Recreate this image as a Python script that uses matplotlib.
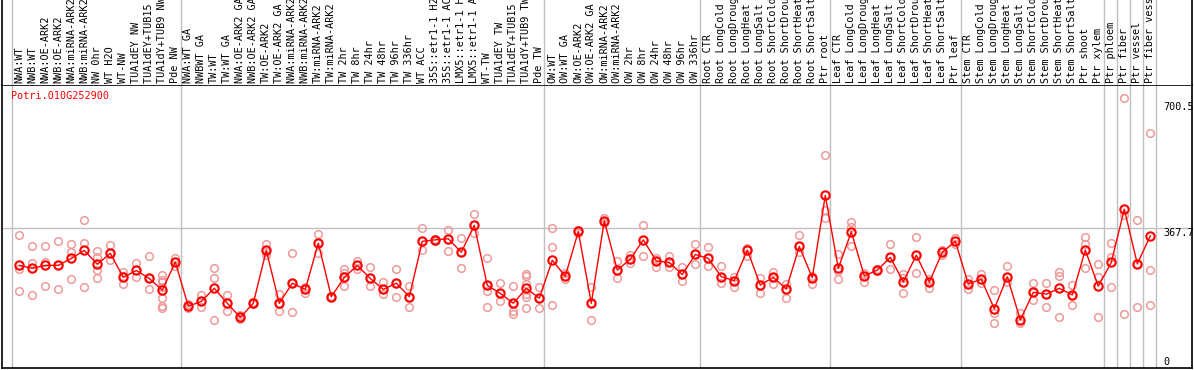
import matplotlib
matplotlib.use("Agg")
import matplotlib.pyplot as plt

# sample labels, in plot order
labels = [
    "NWA:WT", "NWB:WT", "NWA:OE-ARK2", "NWB:OE-ARK2", "NWA:miRNA-ARK2", "NWB:miRNA-ARK2",
    "NW 0hr", "WT H2O", "WT-NW", "TUA1dEY NW", "TUA1dEY+TUB15 NW", "TUA1dY+TUB9 NW", "Pde NW",
    "NWA:WT GA", "NWBWT GA", "TW:WT", "TW:WT GA", "NWA:OE-ARK2 GA", "NWB:OE-ARK2 GA",
    "TW:OE-ARK2", "TW:OE-ARK2 GA", "NWA:miRNA-ARK2 GA", "NWB:miRNA-ARK2 GA", "TW:miRNA-ARK2",
    "TW:miRNA-ARK2 GA", "TW 2hr", "TW 8hr", "TW 24hr", "TW 48hr", "TW 96hr", "TW 336hr", "WT ACC",
    "35S::etr1-1 H2O", "35S::etr1-1 ACC", "LMX5::etr1-1 H2O", "LMX5::etr1-1 ACC", "WT-TW",
    "TUA1dEY TW", "TUA1dEY+TUB15 TW", "TUA1dY+TUB9 TW", "Pde TW",
    "OW:WT", "OW:WT GA", "OW:OE-ARK2", "OW:OE-ARK2 GA", "OW:miRNA-ARK2", "OW:miRNA-ARK2 GA",
    "OW 2hr", "OW 8hr", "OW 24hr", "OW 48hr", "OW 96hr", "OW 336hr",
    "Root CTR", "Root LongCold", "Root LongDrought", "Root LongHeat", "Root LongSalt",
    "Root ShortCold", "Root ShortDrought", "Root ShortHeat", "Root ShortSalt", "Ptr root",
    "Leaf CTR", "Leaf LongCold", "Leaf LongDrought", "Leaf LongHeat", "Leaf LongSalt",
    "Leaf ShortCold", "Leaf ShortDrought", "Leaf ShortHeat", "Leaf ShortSalt", "Ptr leaf",
    "Stem CTR", "Stem LongCold", "Stem LongDrought", "Stem LongHeat", "Stem LongSalt",
    "Stem ShortCold", "Stem ShortDrought", "Stem ShortHeat", "Stem ShortSalt", "Ptr shoot",
    "Ptr xylem", "Ptr phloem", "Ptr fiber", "Ptr vessel", "Ptr fiber vessel",
]

# first sample index of each experiment block (last entry = end)
group_starts = [0, 13, 41, 53, 63, 73, 84, 85, 86, 87, 88]

# mean expression per sample
means = [
    266, 258, 266, 266, 285, 307, 269, 299, 233, 252, 230, 198, 275,
    154, 167, 203, 162, 123, 162, 307, 162, 217, 200, 327, 180, 233, 266, 230,
    200, 217, 180, 332, 336, 339, 302, 376, 211, 189, 162, 203, 176,
    280, 236, 359, 162, 388, 253, 283, 336, 278, 274, 241, 296,
    285, 235, 224, 308, 212, 233, 201, 318, 232, 458,
    258, 358, 237, 253, 288, 221, 294, 220, 302, 332,
    215, 228, 147, 235, 116, 192, 187, 203, 185, 308, 209,
    274, 420, 270, 347,
]

# individual replicate values per sample
reps = [
    [348, 256, 195], [318, 272, 184], [318, 275, 209], [332, 266, 200], [324, 302, 228],
    [390, 327, 206], [305, 288, 252, 230], [321, 299, 280], [247, 237, 214], [272, 252, 233],
    [292, 230, 200], [239, 226, 220, 207, 176, 154, 148], [285, 275, 263],
    [159, 154, 150], [184, 167, 151], [258, 230, 116], [184, 162, 140], [129, 123, 118],
    [165, 162, 159], [324, 303, 294], [187, 160, 140], [299, 217, 137], [207, 200, 191],
    [352, 327, 299], [182, 180, 178], [255, 244, 233, 209], [277, 266, 255], [261, 230, 209],
    [220, 200, 187], [255, 217, 178], [209, 180, 153], [369, 332, 307], [339, 336, 333],
    [362, 339, 305], [340, 302, 258], [407, 376, 354], [285, 211, 195, 151], [217, 189, 167],
    [209, 162, 140, 132], [241, 236, 214, 187, 178, 148], [206, 177, 148],
    [369, 316, 156], [244, 236, 228], [362, 359, 356], [206, 162, 115], [395, 388, 381],
    [278, 253, 230], [294, 283, 272], [376, 336, 292], [287, 278, 262], [292, 274, 262],
    [261, 241, 222], [324, 296, 269],
    [316, 285, 264], [264, 235, 217], [235, 224, 207], [313, 308, 293], [230, 212, 191],
    [249, 233, 215], [214, 201, 176], [348, 318, 303], [238, 232, 215], [568, 418, 395],
    [296, 250, 228], [384, 372, 318], [244, 237, 221], [256, 253, 250], [324, 288, 255],
    [242, 231, 189], [343, 294, 244], [228, 220, 203], [309, 302, 294], [340, 332, 324],
    [228, 215, 200], [241, 228, 218], [198, 136, 107], [264, 235, 221], [134, 116, 107],
    [217, 192, 171], [217, 187, 151], [248, 237, 125], [211, 185, 156], [343, 325, 258],
    [270, 233, 123],
    [327, 290, 206], [724, 404, 132], [390, 270, 151], [628, 253, 156],
]

gene = "Potri.010G252900"
ytick_vals = [700.5, 367.7, 0]

W, H = 1194, 370
mono = "DejaVu Sans Mono"
grid_c = "#c0c0c0"

fig = plt.figure(figsize=(W / 100, H / 100), dpi=100)

# pixel layout
left, right = 2, 1192
top, bottom = 85, 368
x0, dx = 19.3, 13.0          # pixel x of first sample, spacing
y_zero, px_per_unit = 362.3, 1 / 2.744

xlim = ((left - x0) / dx, (right - x0) / dx)
ylim = (-(bottom - y_zero) / px_per_unit, (y_zero - top) / px_per_unit)

ax = fig.add_axes([left / W, (H - bottom) / H, (right - left) / W, (bottom - top) / H])
lab = fig.add_axes([left / W, (H - top) / H, (right - left) / W, top / H])

for a in (ax, lab):
    a.set_xlim(*xlim)
    a.set_xticks([])
    a.set_yticks([])
    for s in a.spines.values():
        s.set_color("black")
        s.set_linewidth(1.2)
ax.set_ylim(*ylim)
lab.set_ylim(0, 1)
lab.spines["bottom"].set_visible(False)
lab.spines["top"].set_visible(False)

# block separators
for g in group_starts:
    ax.axvline(g - 0.6, color=grid_c, lw=1, zorder=1)
    lab.axvline(g - 0.6, color=grid_c, lw=1, zorder=1)
ax.axhline(ytick_vals[1], color=grid_c, lw=1, zorder=1)

# replicates
for i, r in enumerate(reps):
    ax.plot([i] * len(r), r, "o", ls="none", ms=5.5, mfc="none",
            mec="#ef9a9a", mew=1.1, zorder=2)

# means
xs = list(range(len(means)))
ax.plot(xs, means, color="red", lw=1.0, zorder=3)
ax.plot(xs, means, "o", ls="none", ms=6, mfc="none", mec="red", mew=1.5, zorder=4)

# sample labels
for i, name in enumerate(labels):
    lab.text(i, 2 / top, name, rotation=90, ha="center", va="bottom",
             fontfamily=mono, fontsize=7.3, color="black")

# gene title
ax.text(9 / (right - left), 1 - 11 / (bottom - top), gene, transform=ax.transAxes,
        ha="left", va="center", fontfamily=mono, fontsize=7.3, color="red")

# value labels on the right
tx = (1163 - x0) / dx
ax.text(tx, ytick_vals[0], "700.5", ha="left", va="center", fontfamily=mono, fontsize=7.3)
ax.text(tx, ytick_vals[1], "367.7", ha="left", va="top", fontfamily=mono, fontsize=7.3)
ax.text(tx, ytick_vals[2], "0", ha="left", va="center", fontfamily=mono, fontsize=7.3)

fig.savefig("out.png", dpi=100)
